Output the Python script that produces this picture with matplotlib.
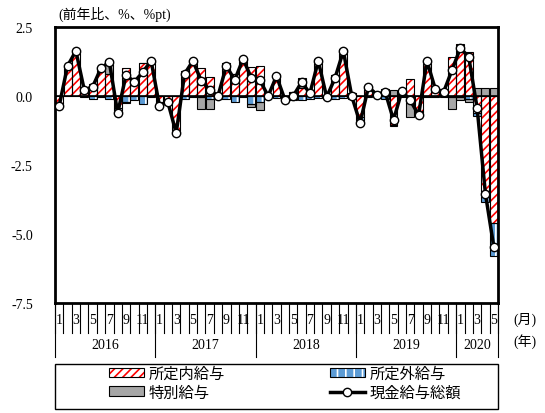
import numpy as np
import matplotlib
matplotlib.use("Agg")
import matplotlib.pyplot as plt
from matplotlib.patches import Patch, Rectangle
from matplotlib.lines import Line2D
from matplotlib.legend_handler import HandlerTuple

plt.rcParams['font.family'] = ['Liberation Serif', 'Noto Sans CJK JP', 'DejaVu Sans']
plt.rcParams['axes.unicode_minus'] = False
plt.rcParams['hatch.linewidth'] = 1.2

# 前年比寄与度 2016/1 - 2020/5
shotei_nai = [-0.25, 1.1, 1.6, 0.3, 0.45, 1.05, 0.8, -0.45, 1.0, 0.65, 1.2, 1.3,
              -0.2, -0.1, -1.3, 0.9, 1.3, 1.0, 0.7, 0.1, 1.2, 0.8, 1.35, 1.05,
              1.1, 0.05, 0.8, 0.0, 0.15, 0.3, 0.2, 1.35, 0.05, 0.75, 1.7, 0.1,
              -0.75, 0.35, 0.1, 0.1, -1.05, 0.2, 0.62, -0.55, 1.3, 0.3, 0.2, 1.4,
              1.9, 1.6, -0.6, -3.45, -4.6]
shotei_gai = [-0.05, 0.0, 0.0, -0.05, -0.12, -0.05, -0.1, -0.12, -0.2, -0.15, -0.3, -0.05,
              -0.1, -0.05, -0.05, -0.1, -0.05, -0.03, -0.1, -0.1, -0.1, -0.2, -0.05, -0.3,
              -0.2, -0.05, -0.08, -0.13, -0.15, -0.15, -0.1, -0.08, -0.1, -0.1, -0.07, -0.1,
              -0.15, -0.02, -0.05, -0.1, -0.02, -0.02, -0.07, -0.04, -0.03, -0.05, -0.05, -0.05,
              -0.05, -0.1, -0.13, -0.4, -1.2]
tokubetsu = [-0.06, 0, 0, 0, 0, 0, 0.5, -0.05, -0.05, 0, 0, 0,
             -0.05, -0.05, 0, 0, 0, -0.43, -0.36, 0, 0, 0, 0, -0.1,
             -0.3, 0, 0, 0, 0, 0.35, 0, 0, 0, 0, 0, 0,
             -0.08, 0, 0, 0.15, 0.2, 0, -0.7, -0.1, 0, 0, 0, -0.42,
             -0.1, -0.1, 0.3, 0.3, 0.3]
sogaku = [-0.36, 1.09, 1.63, 0.22, 0.33, 1.01, 1.23, -0.62, 0.76, 0.51, 0.87, 1.27,
          -0.36, -0.22, -1.34, 0.80, 1.27, 0.55, 0.23, 0.00, 1.09, 0.58, 1.34, 0.65,
          0.58, 0.00, 0.72, -0.13, 0.00, 0.50, 0.10, 1.27, -0.04, 0.65, 1.63, 0.00,
          -0.98, 0.33, 0.05, 0.15, -0.87, 0.18, -0.15, -0.69, 1.27, 0.25, 0.15, 0.94,
          1.74, 1.41, -0.43, -3.55, -5.47]
months = [1, 2, 3, 4, 5, 6, 7, 8, 9, 10, 11, 12] * 4 + [1, 2, 3, 4, 5]
years = ['2016', '2017', '2018', '2019', '2020']

x = np.arange(len(sogaku))
w = 0.95

fig = plt.figure(figsize=(5.45, 4.14), dpi=100)
ax = fig.add_axes([55/545, 110/414, 443/545, 276/414])

# 積み上げ (正負別)
pos = np.zeros(len(x))
neg = np.zeros(len(x))
for vals, kind in [(shotei_nai, 'nai'), (shotei_gai, 'gai'), (tokubetsu, 'toku')]:
    v = np.array(vals, dtype=float)
    bot = np.where(v >= 0, pos, neg)
    if kind == 'nai':
        ax.bar(x, v, w, bottom=bot, color='white', edgecolor='red', hatch='////', lw=0, zorder=2)
    elif kind == 'gai':
        ax.bar(x, v, w, bottom=bot, color='#5b9bd5', edgecolor='white', hatch='||', lw=0, zorder=2)
    else:
        ax.bar(x, v, w, bottom=bot, color='#a6a6a6', lw=0, zorder=2)
    ax.bar(x, v, w, bottom=bot, fill=False, edgecolor='black', lw=0.8, zorder=3)
    pos = pos + np.where(v > 0, v, 0)
    neg = neg + np.where(v < 0, v, 0)

ax.axhline(0, color='black', lw=1.2, zorder=3)
ax.plot(x, sogaku, color='black', lw=2.5, marker='o', ms=6, mfc='white', mec='black', mew=1, zorder=4)

ax.set_xlim(-0.5, len(x) - 0.5)
ax.set_ylim(-7.5, 2.5)
ax.set_yticks([2.5, 0, -2.5, -5.0, -7.5])
ax.set_yticklabels(['2.5', '0.0', '-2.5', '-5.0', '-7.5'])
ax.tick_params(axis='y', length=0, pad=16, labelsize=10)
ax.set_xticks([])
for s in ax.spines.values():
    s.set_linewidth(2)

# 月・年の目盛
tr = ax.get_xaxis_transform()
for i in range(len(x) + 1):
    ax.plot([i - 0.5, i - 0.5], [0, -0.11], transform=tr, color='black', lw=0.8, clip_on=False)
for i, m in enumerate(months):
    if m % 2 == 1:
        ax.text(i, -0.058, str(m), transform=tr, ha='center', va='center', fontsize=10)
starts = [i for i, m in enumerate(months) if m == 1] + [len(x)]
for k in range(len(years)):
    ax.plot([starts[k] - 0.5] * 2, [0, -0.195], transform=tr, color='black', lw=0.8, clip_on=False)
    ax.text((starts[k] + starts[k + 1] - 1) / 2, -0.152, years[k], transform=tr,
            ha='center', va='center', fontsize=10)
ax.plot([starts[-1] - 0.5] * 2, [0, -0.195], transform=tr, color='black', lw=0.8, clip_on=False)
ax.text(1.06, -0.058, '(月)', transform=ax.transAxes, ha='center', va='center', fontsize=10)
ax.text(1.06, -0.135, '(年)', transform=ax.transAxes, ha='center', va='center', fontsize=10)

fig.text(58/545, 1 - 14/414, '(前年比、%、%pt)', ha='left', va='center', fontsize=10)

# 凡例
h_nai = (Patch(facecolor='white', edgecolor='red', hatch='////', lw=0), Patch(fill=False, edgecolor='black', lw=0.8))
h_gai = (Patch(facecolor='#5b9bd5', edgecolor='white', hatch='||', lw=0), Patch(fill=False, edgecolor='black', lw=0.8))
h_toku = Patch(facecolor='#a6a6a6', edgecolor='black', lw=0.8)
h_sogaku = Line2D([], [], color='black', lw=2.5, marker='o', ms=6, mfc='white', mec='black', mew=1)
fig.patches.append(Rectangle((55/545, 4/414), 443/545, 45/414, transform=fig.transFigure,
                             fill=False, edgecolor='black', lw=1))
fig.legend([h_nai, h_toku, h_gai, h_sogaku], ['所定内給与', '特別給与', '所定外給与', '現金給与総額'],
           handler_map={tuple: HandlerTuple(ndivide=1, pad=0)},
           loc='lower left', bbox_to_anchor=(100/545, 4/414, 370/545, 45/414), mode='expand',
           ncol=2, frameon=False, fontsize=11, handlelength=2.3, handleheight=0.6,
           handletextpad=0.3, labelspacing=0.3, borderaxespad=0.2)

fig.savefig('out.png', dpi=100)
